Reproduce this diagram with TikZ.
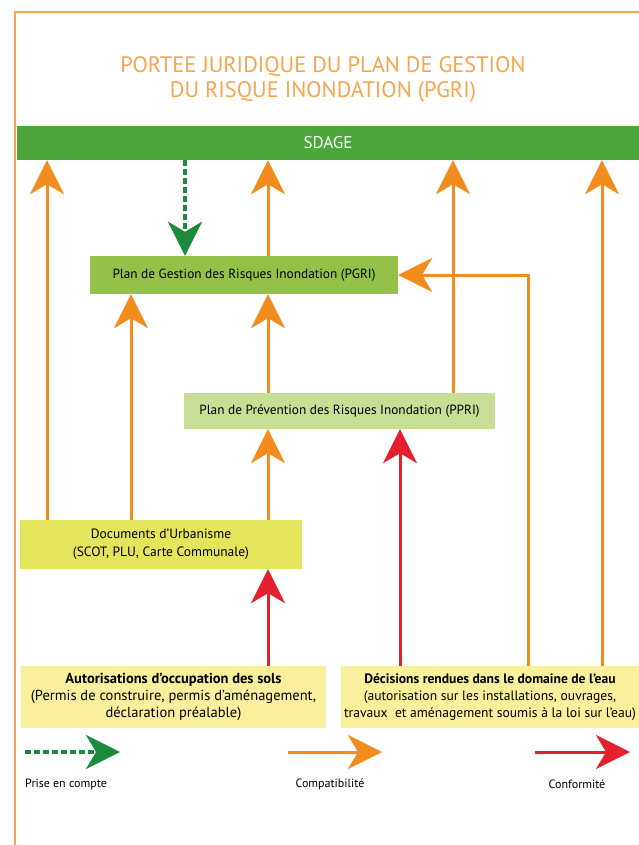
\documentclass[tikz,border=0pt]{standalone}
\usepackage{fontspec}
\setmainfont{PT Sans}
\usetikzlibrary{arrows.meta}
\definecolor{cadre}{HTML}{F6A54E}
\definecolor{orangef}{HTML}{F28C1E}
\definecolor{rouge}{HTML}{E4202E}
\definecolor{vertf}{HTML}{1B8A3C}
\definecolor{vsdage}{HTML}{4DA63A}
\definecolor{vpgri}{HTML}{94C248}
\definecolor{vppri}{HTML}{C8DE95}
\definecolor{jdocs}{HTML}{E3E65C}
\definecolor{jpale}{HTML}{FAEF9C}

\begin{document}
\begin{tikzpicture}[x=1pt,y=-1pt,>={Stealth[length=34pt,width=34pt,inset=10pt]},
    boite/.style={inner sep=0pt,align=center,font=\fontsize{13.3}{17}\selectfont},
    grande/.style={boite,font=\fontsize{14.5}{17}\selectfont},
    legende/.style={inner sep=0pt,font=\fontsize{12}{14}\selectfont},
    compat/.style={->,draw=orangef,line width=3pt},
    conform/.style={->,draw=rouge,line width=3pt},
    prise/.style={->,draw=vertf,line width=4pt,dash pattern=on 6pt off 3pt}]
    \useasboundingbox (0,0) rectangle (639,845);
    \draw[cadre,line width=2.5pt] (15,845) -- (15,12) -- (640,12);
    \node[text=cadre,align=center,font=\fontsize{22.4}{25}\selectfont] (titre) at (323,79)
      {PORTEE JURIDIQUE DU PLAN DE GESTION\\DU RISQUE INONDATION (PGRI)};
    % boites
    \node[boite,fill=vsdage,text=white,font=\fontsize{17}{20}\selectfont,
      minimum width=622pt,minimum height=34pt] (sdage) at (328,143) {SDAGE};
    \node[boite,fill=vpgri,minimum width=308pt,minimum height=38pt] (pgri) at (244,275)
      {Plan de Gestion des Risques Inondation (PGRI)};
    \node[boite,fill=vppri,minimum width=311pt,minimum height=36pt] (ppri) at (339.5,411)
      {Plan de Prévention des Risques Inondation (PPRI)};
    \node[boite,fill=jdocs,font=\fontsize{13.5}{18}\selectfont,
      minimum width=282pt,minimum height=49pt] (docs) at (161,544.5)
      {Documents d'Urbanisme\\(SCOT, PLU, Carte Communale)};
    \node[grande,fill=jpale,minimum width=305pt,minimum height=62pt] (autor) at (173.5,697)
      {\textbf{Autorisations d'occupation des sols}\\(Permis de construire, permis d'aménagement,\\déclaration préalable)};
    \node[grande,fill=jpale,font=\fontsize{13.6}{17}\selectfont,
      minimum width=298pt,minimum height=62pt] (decis) at (490,697)
      {\textbf{Décisions rendues dans le domaine de l'eau}\\(autorisation sur les installations, ouvrages,\\travaux\ \ et aménagement soumis à la loi sur l'eau)};
    % colonnes des fleches
    \coordinate (xa) at (47,0);
    \coordinate (xb) at (131,0);
    \coordinate (xc) at (185,0);
    \coordinate (xd) at (268,0);
    \coordinate (xe) at (400,0);
    \coordinate (xf) at (453,0);
    \coordinate (xg) at (528,0);
    \coordinate (xh) at (602,0);
    % compatibilite
    \draw[compat] (docs.north -| xa) -- (sdage.south -| xa);
    \draw[compat] (docs.north -| xb) -- (pgri.south -| xb);
    \draw[compat] (docs.north -| xd) -- (ppri.south -| xd);
    \draw[compat] (ppri.north -| xd) -- (pgri.south -| xd);
    \draw[compat] (pgri.north -| xd) -- (sdage.south -| xd);
    \draw[compat] (ppri.north -| xf) -- (sdage.south -| xf);
    \draw[compat] (decis.north -| xg) |- (pgri.east);
    \draw[compat] (decis.north -| xh) -- (sdage.south -| xh);
    % conformite
    \draw[conform] (autor.north -| xd) -- (docs.south -| xd);
    \draw[conform] (decis.north -| xe) -- (ppri.south -| xe);
    % prise en compte
    \draw[prise] (sdage.south -| xc) -- (pgri.north -| xc);
    % legende
    \coordinate (lga) at (25,752);
    \coordinate (lgb) at (120,752);
    \coordinate (lca) at (288,752);
    \coordinate (lcb) at (382,752);
    \coordinate (lra) at (535,752);
    \coordinate (lrb) at (630,752);
    \draw[prise] (lga) -- (lgb);
    \draw[compat] (lca) -- (lcb);
    \draw[conform] (lra) -- (lrb);
    \node[legende,right] (lprise) at (25,784) {Prise en compte};
    \node[legende] (lcompat) at (330,784) {Compatibilité};
    \node[legende] (lconform) at (577,784) {Conformité};
\end{tikzpicture}
\end{document}
